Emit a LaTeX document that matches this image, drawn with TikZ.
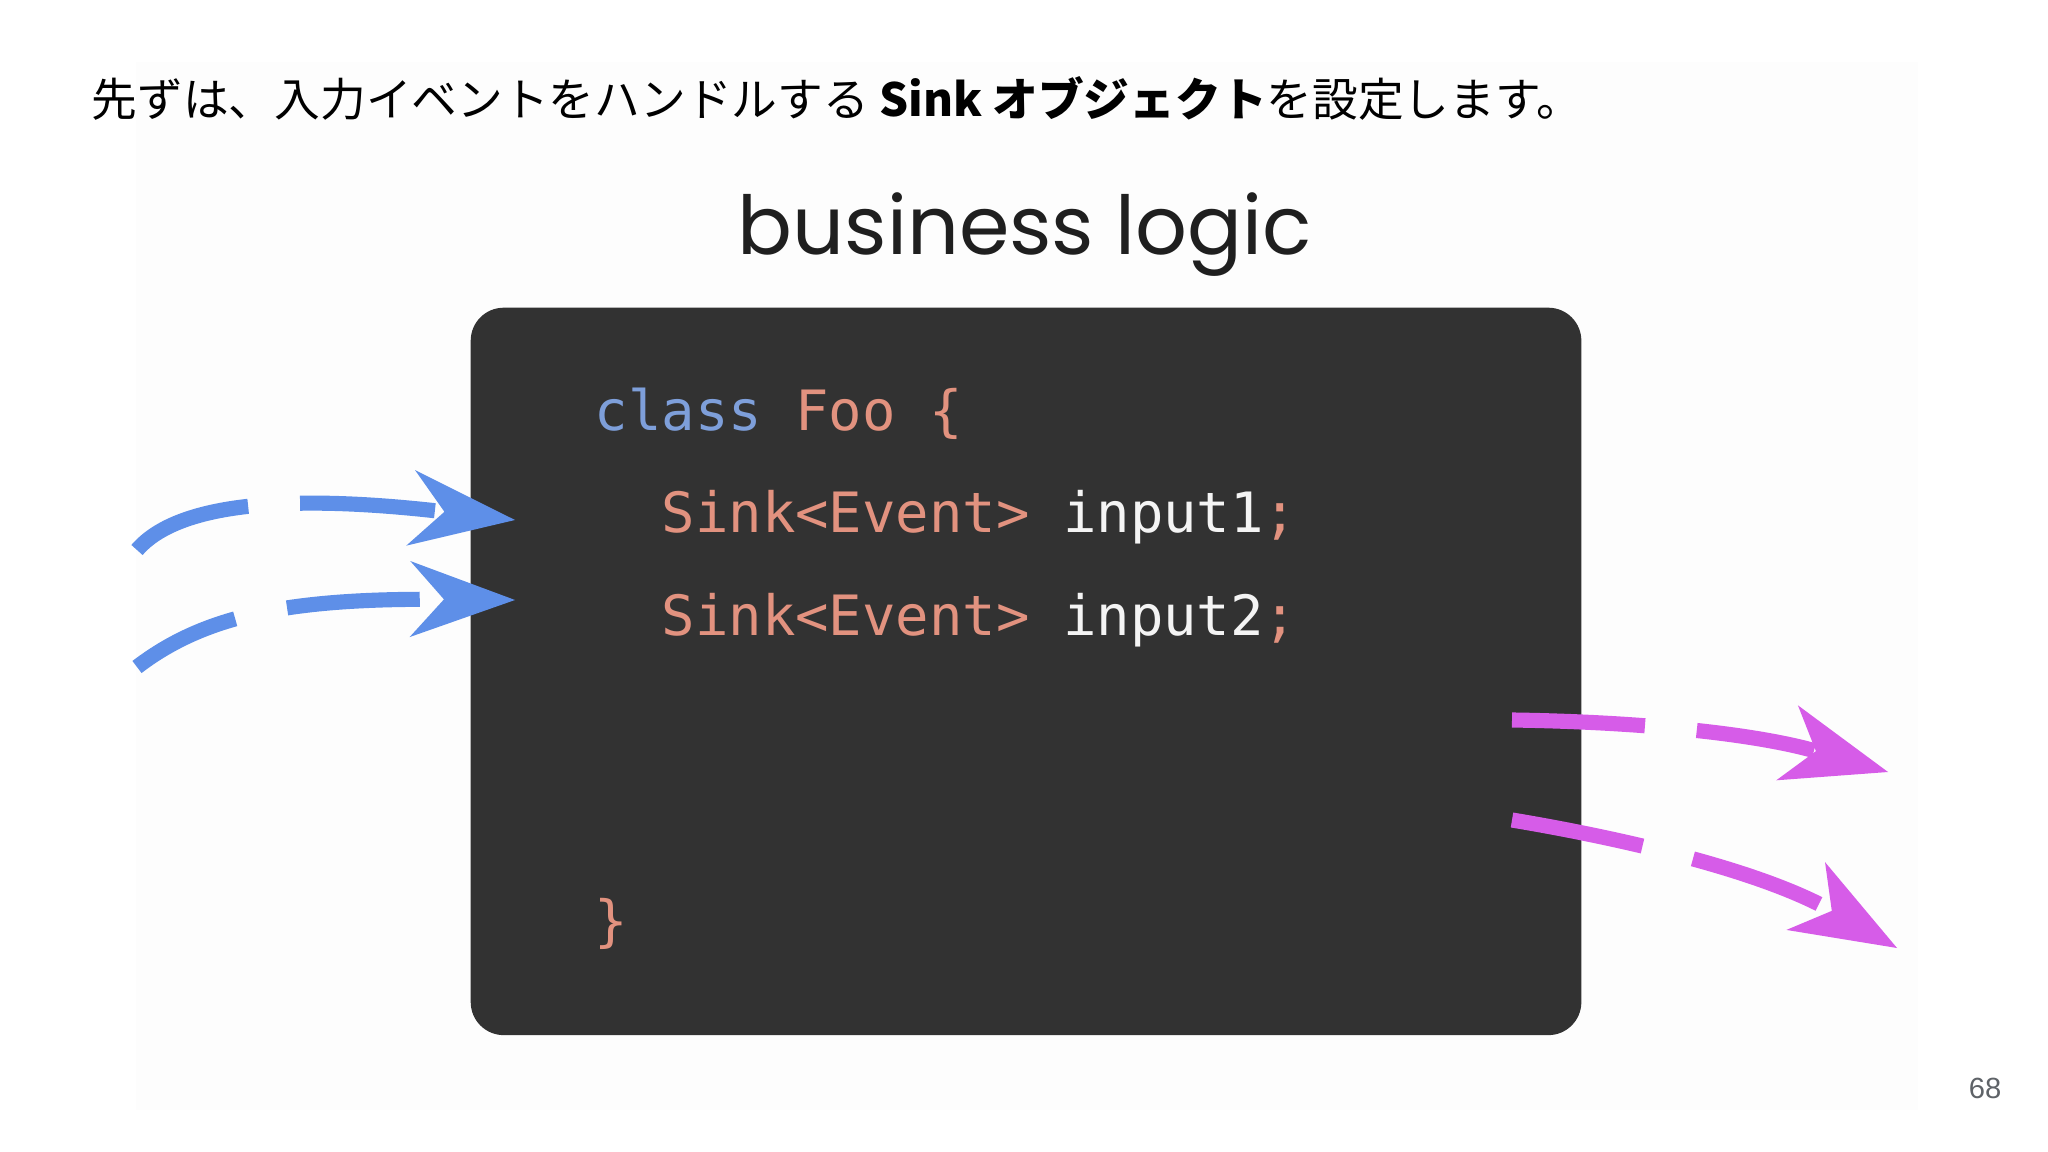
\documentclass[tikz,border=0pt]{standalone}
\usepackage{fontspec}
\setmainfont{Liberation Sans}
\setmonofont{DejaVu Sans Mono}
\newfontfamily\jpfont{Noto Sans CJK JP}
\newfontfamily\headfont{Poppins}
\usetikzlibrary{arrows.meta, positioning}
\definecolor{slidebg}{HTML}{FDFDFD}
\definecolor{headink}{HTML}{1F1F1F}
\definecolor{codebg}{HTML}{323232}
\definecolor{keywordblue}{HTML}{7E9FDA}
\definecolor{typesalmon}{HTML}{E2927F}
\definecolor{identwhite}{HTML}{F4F4F4}
\definecolor{inputblue}{HTML}{5E8FE8}
\definecolor{outputmagenta}{HTML}{D65CE8}
\definecolor{pagegray}{HTML}{5F6368}

\begin{document}
\begin{tikzpicture}[x=0.01cm, y=-0.01cm,
  codeline/.style={anchor=base west, inner sep=0pt, font=\ttfamily\fontsize{15.8pt}{18pt}\selectfont},
  inarrow/.style={draw=inputblue, line width=4.3pt,
    -{Stealth[length=1.05cm, width=0.76cm, inset=0.34cm, line width=0pt]}},
  outarrow/.style={draw=outputmagenta, line width=4.3pt,
    -{Stealth[length=1.05cm, width=0.78cm, inset=0.3cm, line width=0pt]}}]
  \useasboundingbox (0,0) rectangle (2048,1152);
  \fill[white] (0,0) rectangle (2048,1152);
  \fill[slidebg] (136,62) rectangle (1918,1110);

  % Caption
  \node[anchor=west, inner sep=0pt, font=\jpfont\fontsize{13pt}{15pt}\selectfont] (caption) at (91,98)
    {先ずは、入力イベントをハンドルする \textbf{Sink オブジェクト}を設定します。};

  % Heading
  \node[anchor=base, inner sep=0pt, text=headink, font=\headfont\fontsize{23.1pt}{28pt}\selectfont] (heading) at (1025,255) {business logic};

  % Code box
  \node[fill=codebg, rounded corners=0.33cm, minimum width=11.1cm, minimum height=7.27cm, inner sep=0pt, anchor=north west] (codebox) at (470,307) {};
  \node[codeline] (line1) at (594,431) {\color{keywordblue}class \color{typesalmon}Foo \{};
  \node[codeline] (line2) at (661,533) {\color{typesalmon}Sink<Event> \color{identwhite}input1\color{typesalmon};};
  \node[codeline] (line3) at (661,636) {\color{typesalmon}Sink<Event> \color{identwhite}input2\color{typesalmon};};
  \node[codeline, text=typesalmon] (closing) at (594,940) {\}};

  % Input arrows
  \coordinate (in1start) at (137,550);
  \coordinate (in1tip) at (515,520);
  \coordinate (in2start) at (137,667);
  \coordinate (in2tip) at (515,600);
  \draw[inarrow, dash pattern=on 1.22cm off 0.52cm on 1.35cm off 2cm]
    (in1start) .. controls (180,500) and (300,495) .. (in1tip);
  \draw[inarrow, dash pattern=on 1.10cm off 0.53cm on 1.33cm off 2cm]
    (in2start) .. controls (205,615) and (290,598) .. (in2tip);

  % Output arrows
  \coordinate (out1start) at (1512,720);
  \coordinate (out1tip) at (1888,772);
  \coordinate (out2start) at (1512,820);
  \coordinate (out2tip) at (1897,948);
  \draw[outarrow, dash pattern=on 1.33cm off 0.52cm on 1.19cm off 2cm]
    (out1start) .. controls (1650,722) and (1760,735) .. (out1tip);
  \draw[outarrow, dash pattern=on 1.33cm off 0.52cm on 1.34cm off 2cm]
    (out2start) .. controls (1620,838) and (1760,870) .. (out2tip);

  % Page number
  \node[text=pagegray, font=\fontsize{8.3pt}{10pt}\selectfont] (pagenum) at (1985,1088) {68};
\end{tikzpicture}
\end{document}
